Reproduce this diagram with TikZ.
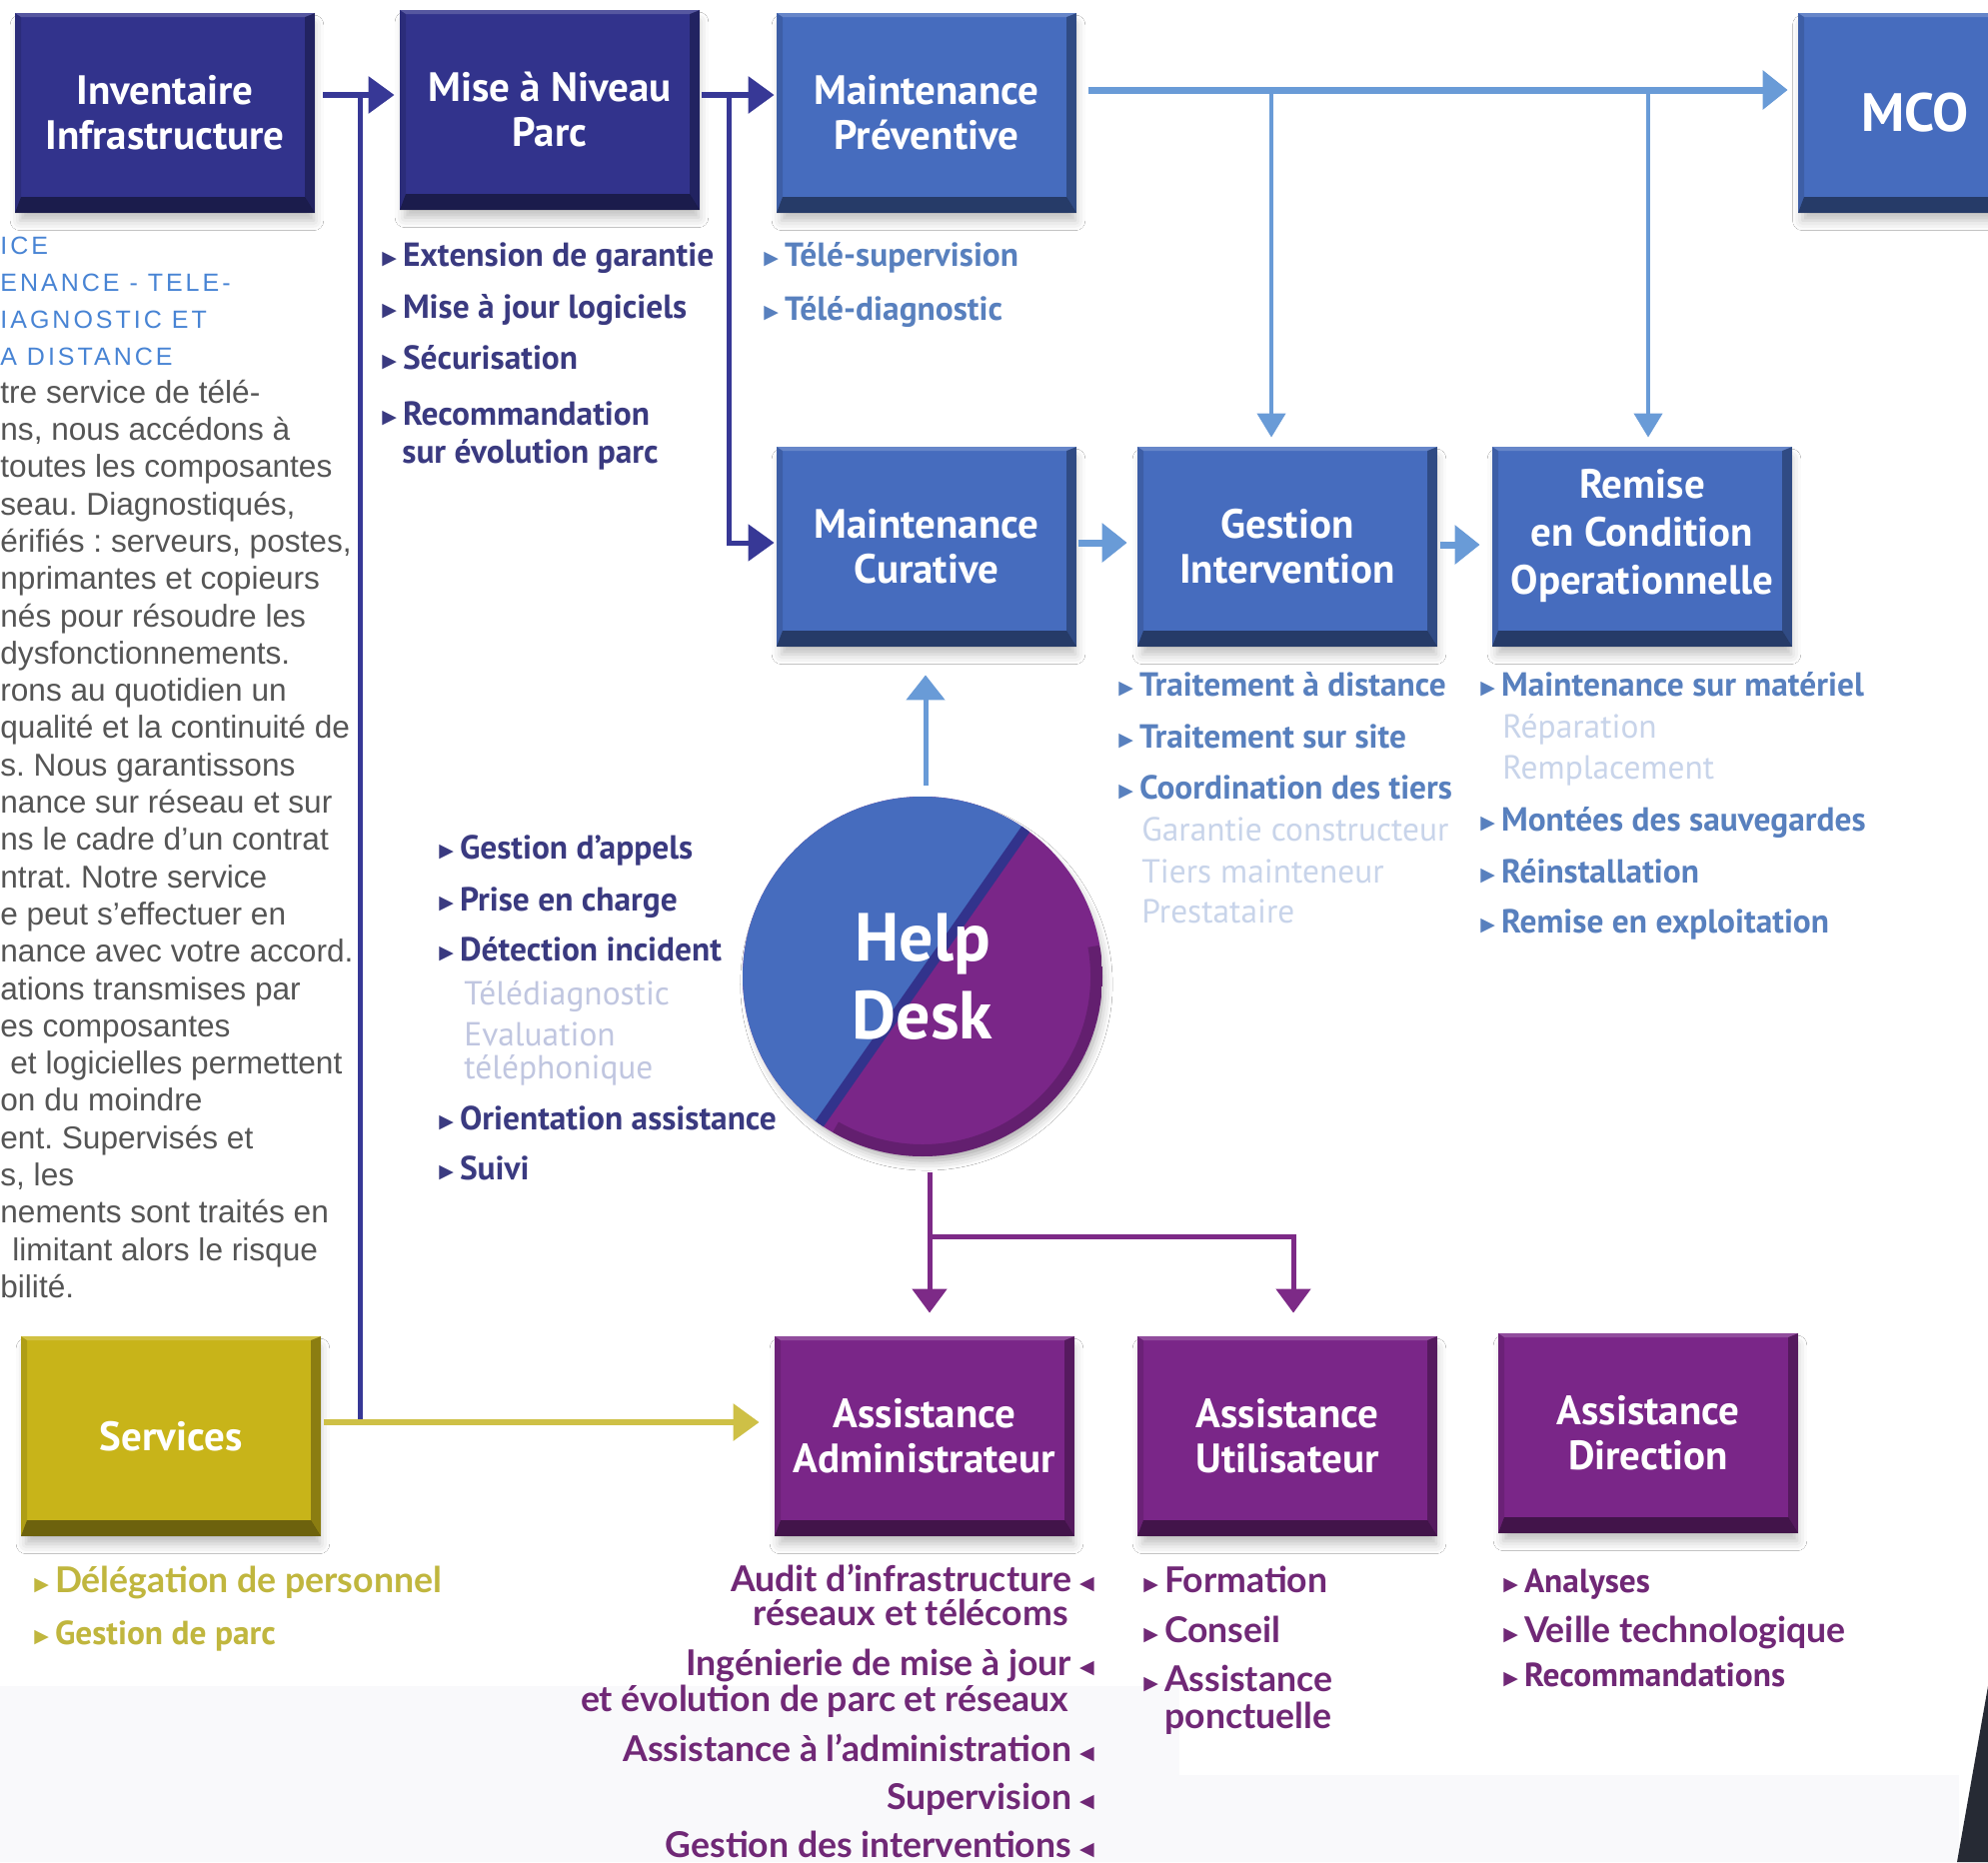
\documentclass[tikz,border=0pt]{standalone}
\usepackage{fontspec}
\setmainfont{PT Sans}
\newfontfamily\latofont{Lato}
\newfontfamily\arialfont{Liberation Sans}
\newfontfamily\symfont{DejaVu Sans}
\usetikzlibrary{arrows.meta,shadows.blur,positioning}
\frenchspacing

\definecolor{navyc}{RGB}{50,51,140}
\definecolor{bluec}{RGB}{70,108,190}
\definecolor{purc}{RGB}{122,38,136}
\definecolor{yelc}{RGB}{200,180,25}
\definecolor{navyline}{RGB}{55,56,150}
\definecolor{blline}{RGB}{105,155,215}
\definecolor{purline}{RGB}{125,42,135}
\definecolor{yelline}{RGB}{206,192,70}
\definecolor{navytxt}{RGB}{58,58,128}
\definecolor{bltxt}{RGB}{88,128,190}
\definecolor{paletxt}{RGB}{200,212,234}
\definecolor{paletxtb}{RGB}{192,198,224}
\definecolor{yeltxt}{RGB}{192,182,62}
\definecolor{purtxt}{RGB}{112,40,118}
\definecolor{captxt}{RGB}{72,132,212}
\definecolor{bodytxt}{RGB}{85,85,85}
\definecolor{cornerc}{RGB}{38,42,52}
\definecolor{bandc}{RGB}{249,249,251}

\newcommand{\bevel}{%
  \fill[black,opacity=.45] (path picture bounding box.south west) -- (path picture bounding box.south east)
    -- ([shift={(-5pt,8pt)}]path picture bounding box.south east) -- ([shift={(3pt,8pt)}]path picture bounding box.south west) -- cycle;
  \fill[black,opacity=.3] (path picture bounding box.north east) -- ([shift={(-5pt,-2pt)}]path picture bounding box.north east)
    -- ([shift={(-5pt,8pt)}]path picture bounding box.south east) -- (path picture bounding box.south east) -- cycle;
  \fill[white,opacity=.18] (path picture bounding box.north west) -- (path picture bounding box.north east)
    -- ([shift={(-5pt,-2pt)}]path picture bounding box.north east) -- ([shift={(3pt,-2pt)}]path picture bounding box.north west) -- cycle;
  \fill[black,opacity=.12] (path picture bounding box.north west) -- ([shift={(3pt,-2pt)}]path picture bounding box.north west)
    -- ([shift={(3pt,8pt)}]path picture bounding box.south west) -- (path picture bounding box.south west) -- cycle;}
\newcommand{\bul}{{\symfont\fontsize{9.5}{10}\selectfont\raisebox{.6pt}{▶}}\hspace{3pt}}
\newcommand{\lbul}{\hspace{4pt}{\symfont\fontsize{9.5}{10}\selectfont\raisebox{.6pt}{◀}}}

\tikzset{
  box/.style={rectangle, minimum width=150pt, minimum height=100pt, inner sep=0pt, align=center, text=white,
    font=\fontsize{20.5}{22.5}\selectfont\bfseries,
    blur shadow={shadow xshift=1pt, shadow yshift=-5pt, shadow scale=.98, shadow blur radius=5pt, shadow opacity=25},
    path picture=\bevel},
  boxnavy/.style={box, fill=navyc},
  boxblue/.style={box, fill=bluec},
  boxpur/.style={box, fill=purc},
  boxyel/.style={box, fill=yelc},
  item/.style={anchor=base west, inner sep=0pt, font=\fontsize{16.7}{19}\selectfont\bfseries},
  pale/.style={anchor=base west, inner sep=0pt, font=\fontsize{16.7}{19}\selectfont},
  itemlato/.style={anchor=base west, inner sep=0pt, font=\latofont\bfseries\fontsize{17.8}{20}\selectfont},
  itemr/.style={anchor=base east, inner sep=0pt, font=\latofont\bfseries\fontsize{17.8}{20}\selectfont, text=purtxt},
  capstxt/.style={anchor=base west, inner sep=0pt, text=captxt,
    font=\arialfont\fontsize{12.5}{14}\selectfont\addfontfeature{LetterSpace=12}},
  bodytext/.style={anchor=base west, inner sep=0pt, text=bodytxt, font=\arialfont\fontsize{15.8}{18.6}\selectfont},
  navyarr/.style={draw=navyline, line width=3pt, -{Triangle[width=18pt,length=13pt]}},
  blarr/.style={draw=blline, line width=3.5pt, -{Triangle[width=19pt,length=12.5pt]}},
  blthin/.style={draw=blline, line width=2pt, -{Triangle[width=14pt,length=12pt]}},
  purarr/.style={draw=purline, line width=2.5pt, -{Triangle[width=17pt,length=12pt]}},
  yelarr/.style={draw=yelline, line width=3pt, -{Triangle[width=18pt,length=13pt]}}
}

\begin{document}
\begin{tikzpicture}[x=0.5pt,y=-0.5pt]
\clip (0,0) rectangle (1989,1863);
\fill[white] (0,0) rectangle (1989,1863);
\fill[bandc] (0,1687) rectangle (1180,1863);
\fill[bandc] (1180,1776) rectangle (1960,1863);
\fill[cornerc] (1989,1687) -- (1958,1863) -- (1989,1863) -- cycle;

\node[boxnavy] (inv)  at (165,113)  {Inventaire\\Infrastructure};
\node[boxnavy] (mise) at (550,110)  {Mise à Niveau\\Parc};
\node[boxblue] (prev) at (927,113)  {Maintenance\\Préventive};
\node[boxblue, minimum width=117pt, font=\fontsize{27}{30}\selectfont\bfseries] (mco) at (1916,113) {MCO};
\node[boxblue] (cur)  at (927,547)  {Maintenance\\Curative};
\node[boxblue] (gest) at (1288,547) {Gestion\\Intervention};
\node[boxblue, font=\fontsize{20.5}{24}\selectfont\bfseries] (rem) at (1643,547) {Remise\\en Condition\\Operationnelle\\[-9pt]\mbox{}};
\node[boxyel]  (serv) at (171,1437) {Services};
\node[boxpur]  (aadm) at (925,1437) {Assistance\\Administrateur};
\node[boxpur]  (autil) at (1288,1437) {Assistance\\Utilisateur};
\node[boxpur]  (adir) at (1649,1434) {Assistance\\Direction};

\node[circle, minimum size=180pt, inner sep=0pt, align=center, text=white,
  font=\fontsize{34}{39}\selectfont\bfseries,
  blur shadow={shadow xshift=2pt, shadow yshift=-4pt, shadow scale=.98, shadow blur radius=5pt, shadow opacity=35},
  path picture={
    \fill[purc] (path picture bounding box.south west) rectangle (path picture bounding box.north east);
    \fill[bluec] (path picture bounding box.center) -- ++(55:92pt) arc[start angle=55, end angle=235, radius=92pt] -- cycle;
    \draw[navyc, line width=5pt] ([shift={(55:92pt)}]path picture bounding box.center) -- ([shift={(235:92pt)}]path picture bounding box.center);
    \draw[black, opacity=.18, line width=6pt] ([shift={(10:87pt)}]path picture bounding box.center) arc[start angle=10, end angle=-120, radius=87pt];
  }] (hd) at (923,977) {Help\\Desk};

\coordinate (j1) at (360,95);
\coordinate (j2) at (729,95);
\coordinate (j4) at (360,1423);
\coordinate (b1) at (1272,90);
\coordinate (b2) at (1649,90);
\coordinate (p1) at (930,1237);

\draw[navyline, line width=2.5pt] (j1) -- (j4);
\draw[navyarr, shorten <=4pt, shorten >=2.5pt] (inv.east |- j1) -- (mise.west |- j1);
\draw[navyarr, shorten <=1pt, shorten >=1pt] (mise.east |- j2) -- (prev.west |- j2);
\draw[navyarr, line width=2.5pt, shorten >=1pt] (j2) |- ([yshift=2pt]cur.west);
\draw[blarr, shorten <=6pt, shorten >=5pt] (prev.east |- b1) -- (mco.west |- b1);
\draw[blthin, shorten >=4.5pt] (b1) -- (b1 |- gest.north);
\draw[blthin, shorten >=4.5pt] (b2) -- (b2 |- rem.north);
\draw[blarr, shorten <=1pt, shorten >=5pt] ([yshift=2pt]cur.east) -- ([yshift=2pt]gest.west);
\draw[blarr, shorten <=1.5pt, shorten >=6pt] ([yshift=1pt]gest.east) -- ([yshift=1pt]rem.west);
\draw[blarr, line width=2.5pt, shorten <=5.5pt, shorten >=14pt] ([xshift=1.5pt]hd.north) -- ([xshift=1.5pt]hd.north |- cur.south);
\draw[purarr, shorten <=8pt, shorten >=11.5pt] (p1 |- hd.south) -- (p1 |- aadm.north);
\draw[purarr, shorten >=11.5pt] (p1) -| ([xshift=3pt]autil.north);
\draw[yelarr, shorten <=1.5pt, shorten >=7.5pt] (serv.east |- j4) -- (aadm.west |- j4);

\foreach \lbl [count=\i from 0] in {ICE, ENANCE - TELE-, IAGNOSTIC ET, A DISTANCE}
  \node[capstxt] (cap\i) at (0,254+37.3*\i) {\lbl};
\foreach \lbl [count=\i from 4] in {tre service de télé-, {ns, nous accédons à}, toutes les composantes,
    {seau. Diagnostiqués,}, {érifiés : serveurs, postes,}, nprimantes et copieurs, nés pour résoudre les,
    dysfonctionnements., rons au quotidien un, qualité et la continuité de, s. Nous garantissons,
    nance sur réseau et sur, ns le cadre d’un contrat, ntrat. Notre service, e peut s’effectuer en,
    nance avec votre accord., ations transmises par, es composantes, \hspace*{5pt}et logicielles permettent,
    on du moindre, ent. Supervisés et, {s, les}, nements sont traités en,
    \hspace*{6pt}limitant alors le risque, bilité.}
  \node[bodytext] (body\i) at (0,254+37.3*\i) {\lbl};

\foreach \y/\lbl [count=\i] in {266/Extension de garantie, 318/Mise à jour logiciels, 369/Sécurisation, 425/Recommandation}
  \node[item, text=navytxt] (mp\i) at (382,\y) {\bul\lbl};
\node[item, text=navytxt] (mp5) at (402,463) {sur évolution parc};

\foreach \y/\lbl [count=\i] in {266/Télé-supervision, 320/Télé-diagnostic}
  \node[item, text=bltxt] (pv\i) at (764,\y) {\bul\lbl};

\foreach \y/\lbl [count=\i] in {696/Traitement à distance, 748/Traitement sur site, 799/Coordination des tiers}
  \node[item, text=bltxt] (gi\i) at (1119,\y) {\bul\lbl};
\foreach \y/\lbl [count=\i from 4] in {841/Garantie constructeur, 883/Tiers mainteneur, 923/Prestataire}
  \node[pale, text=paletxt] (gi\i) at (1142,\y) {\lbl};

\foreach \y/\lbl [count=\i] in {696/Maintenance sur matériel, 831/Montées des sauvegardes, 883/Réinstallation, 933/Remise en exploitation}
  \node[item, text=bltxt] (rc\i) at (1481,\y) {\bul\lbl};
\foreach \y/\lbl [count=\i from 5] in {738/Réparation, 779/Remplacement}
  \node[pale, text=paletxt] (rc\i) at (1503,\y) {\lbl};

\foreach \y/\lbl [count=\i] in {859/Gestion d’appels, 911/Prise en charge, 961/Détection incident, 1130/Orientation assistance, 1180/Suivi}
  \node[item, text=navytxt] (hdi\i) at (439,\y) {\bul\lbl};
\foreach \y/\lbl [count=\i from 6] in {1005/Télédiagnostic, 1046/Evaluation, 1079/téléphonique}
  \node[pale, text=paletxtb] (hdi\i) at (464,\y) {\lbl};

\node[itemlato, text=yeltxt] (sv1) at (34,1593) {\bul Délégation de personnel};
\node[item, text=yeltxt] (sv2) at (34,1645) {\bul Gestion de parc};

\foreach \y/\lbl [count=\i] in {1592/Audit d’infrastructure, 1676/Ingénierie de mise à jour, 1762/Assistance à l’administration, 1810/Supervision, 1858/Gestion des interventions}
  \node[itemr] (ad\i) at (1095,\y) {\lbl\lbul};
\foreach \y/\lbl [count=\i from 6] in {1626/réseaux et télécoms, 1712/et évolution de parc et réseaux}
  \node[itemr] (ad\i) at (1069,\y) {\lbl};

\foreach \y/\lbl [count=\i] in {1593/Formation, 1643/Conseil, 1692/Assistance}
  \node[itemlato, text=purtxt] (ut\i) at (1144,\y) {\bul\lbl};
\node[itemlato, text=purtxt] (ut4) at (1165,1729) {ponctuelle};

\node[item, text=purtxt] (di1) at (1504,1593) {\bul Analyses};
\node[itemlato, text=purtxt] (di2) at (1504,1643) {\bul Veille technologique};
\node[item, text=purtxt] (di3) at (1504,1687) {\bul Recommandations};
\end{tikzpicture}
\end{document}
